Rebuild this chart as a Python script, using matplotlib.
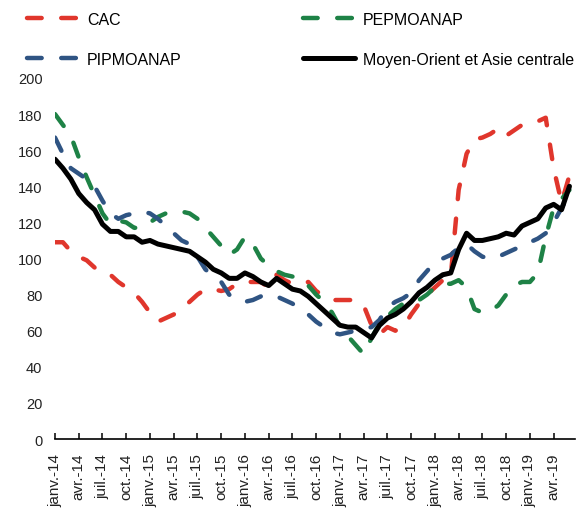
import matplotlib
matplotlib.use("Agg")
import matplotlib.pyplot as plt
import numpy as np

plt.rcParams['font.family'] = ['Liberation Sans', 'DejaVu Sans']

# Monthly data, janv. 2014 -> juin 2019
cac = [109,109,104,101,99,95,92,91,87,84,
       81,76,70,65,67,69,72,76,80,83,
       83,82,83,86,87,87,87,84,91,88,
       86,86,87,82,79,77,77,77,77,74,
       63,58,62,60,62,69,75,80,84,88,
       90,138,158,166,167,169,172,168,171,174,
       175,176,178,150,131,146]
pepmoanap = [180,174,168,156,145,135,125,119,121,120,
             117,117,120,123,125,125,126,125,122,117,
             112,107,102,105,112,108,100,96,93,91,
             90,89,85,80,76,70,62,57,52,47,
             56,64,68,72,75,77,77,80,84,86,
             86,88,84,72,70,71,74,80,85,87,
             87,92,112,128,133,138]
pipmoanap = [167,158,150,147,144,140,132,125,122,124,
             125,126,125,122,118,114,110,108,101,94,
             90,87,80,77,76,77,79,78,79,77,
             75,72,69,65,62,59,58,59,60,61,
             62,66,73,76,78,81,88,93,98,100,
             102,106,108,104,101,100,101,103,105,107,
             109,111,114,120,128,136]
moac = [155,150,144,136,131,127,119,115,115,112,
        112,109,110,108,107,106,105,104,101,98,
        94,92,89,89,92,90,87,85,89,86,
        83,82,79,75,71,67,63,62,62,59,
        56,63,67,69,72,76,81,84,88,91,
        92,105,114,110,110,111,112,114,113,118,
        120,122,128,130,127,140]

months = ['janv.', 'avr.', 'juil.', 'oct.']
years = ['14', '15', '16', '17', '18', '19']
tick_labels = [f"{m}-{y}" for y in years for m in months][:22]

x = np.arange(len(moac))

fig = plt.figure(figsize=(5.76, 5.10), dpi=100)
ax = fig.add_axes([55/576, 1-440/510, 520/576, (440-79)/510])

dash = (0, (3.3, 4.4))
lw_d = 3.2
l1, = ax.plot(x, cac, color='#E0362C', lw=lw_d, linestyle=dash, dash_capstyle='round', label='CAC')
l2, = ax.plot(x, pepmoanap, color='#1E8246', lw=lw_d, linestyle=dash, dash_capstyle='round', label='PEPMOANAP')
l3, = ax.plot(x, pipmoanap, color='#2F5483', lw=lw_d, linestyle=dash, dash_capstyle='round', label='PIPMOANAP')
l4, = ax.plot(x, moac, color='black', lw=3.6, solid_capstyle='round', solid_joinstyle='round',
              label='Moyen-Orient et Asie centrale')

ax.set_xlim(0, 65.7)
ax.set_ylim(0, 200)
ax.set_yticks(np.arange(0, 201, 20))
ax.set_xticks(np.arange(0, 66, 3))
ax.set_xticklabels(tick_labels, rotation=90, va='top', ha='center')

for s in ['top', 'right', 'left']:
    ax.spines[s].set_visible(False)
ax.spines['bottom'].set_linewidth(1.2)
ax.spines['bottom'].set_color('black')

ax.tick_params(axis='y', length=0, pad=9, labelsize=10.5, labelcolor='#222222')
ax.tick_params(axis='x', direction='in', length=4, width=1.1, pad=10, labelsize=11, labelcolor='#222222')

fig.legend([l1, l3, l2, l4], [l1.get_label(), l3.get_label(), l2.get_label(), l4.get_label()],
           ncol=2, loc='upper left', bbox_to_anchor=(27/576, 1-13/510), frameon=False,
           fontsize=11.5, handlelength=3.25, handletextpad=0.5, columnspacing=7.6,
           labelspacing=1.55, borderpad=0, borderaxespad=0)

fig.savefig('out.png', dpi=100)
